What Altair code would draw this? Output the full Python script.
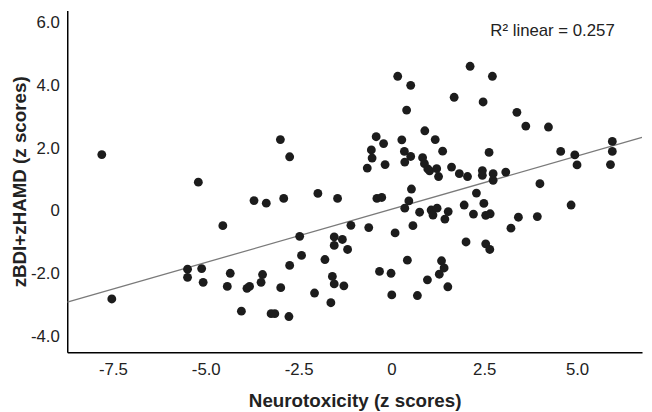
import altair as alt
import pandas as pd

# ---- data ----
neurotoxicity = [
    -7.80, -7.53, -5.20, -5.49, -5.49, -5.11, -5.07, -4.54, -4.34, -4.42,
    -3.89, -3.82, -4.04, -3.70, -3.37, -3.47, -3.51, -3.24, -3.14, -2.99,
    -2.90, -2.74, -2.98, -2.74, -2.76, -2.47, -2.42, -1.98, -2.07, -1.79,
    -1.63, -1.45, -1.59, -1.54, -1.54, -1.54, -1.32, -1.28, -1.18, -1.09,
    -0.65, -0.61, -0.54, -0.52, -0.41, -0.21, -0.17, -0.39, -0.26, -0.32,
    -0.01, 0.01, 0.10, 0.17, 0.52, 0.41, 0.28, 0.35, 0.52, 0.36,
    0.54, 0.47, 0.36, 0.58, 0.43, 0.70, 0.76, 0.90, 0.84, 0.89,
    0.98, 1.03, 1.18, 1.22, 1.27, 1.38, 1.07, 1.12, 1.23, 1.44,
    1.53, 0.97, 1.29, 1.35, 1.42, 1.52, 1.69, 1.62, 1.83, 2.05,
    1.96, 2.01, 2.12, 2.29, 2.21, 2.47, 2.45, 2.45, 2.49, 2.54,
    2.66, 2.54, 2.65, 2.72, 2.63, 2.74, 2.74, 3.08, 3.22, 3.38,
    3.42, 3.62, 3.93, 4.00, 4.23, 4.56, 4.84, 4.94, 5.00, 5.95,
    5.95, 5.90,
]
depression = [
    1.80, -2.81, 0.92, -1.86, -2.12, -1.84, -2.28, -0.47, -1.99, -2.41,
    -2.47, -2.41, -3.20, 0.33, 0.25, -2.03, -2.28, -3.28, -3.28, 2.28,
    0.40, 1.73, -2.45, -1.74, -3.37, -0.81, -1.42, 0.56, -2.62, -1.55,
    -2.93, 0.40, -2.09, -2.33, -0.83, -1.10, -0.91, -2.39, -1.23, -0.46,
    1.37, -0.53, 1.95, 1.69, 2.37, 2.15, 1.48, 0.40, 0.43, -1.93,
    -1.99, -2.68, -0.70, 4.30, 4.01, 3.22, 2.27, 1.90, 1.74, 1.56,
    0.70, 0.32, 0.09, -0.47, -1.57, -2.70, -0.04, 2.56, 1.70, 1.51,
    1.34, 1.28, 2.28, 1.35, 1.10, 1.91, 0.03, -0.13, 0.09, -0.26,
    -0.02, -2.20, -2.02, -1.59, -1.82, -2.42, 3.63, 1.40, 1.19, 1.10,
    0.19, -0.99, 4.62, 0.57, -0.10, 3.48, 1.29, 1.14, 0.24, -0.14,
    -0.09, -1.05, -1.23, 4.30, 1.87, 1.19, 0.98, 1.24, -0.55, 3.15,
    -0.20, 2.71, -0.18, 0.87, 2.68, 1.90, 0.19, 1.79, 1.47, 2.22,
    1.90, 1.48,
]

fit_intercept = 0.055
fit_slope = 0.340
x_domain = [-8.73, 6.75]
y_domain = [-4.51, 6.40]
x_ticks = [-7.5, -5.0, -2.5, 0, 2.5, 5.0]
y_ticks = [-4.0, -2.0, 0, 2.0, 4.0, 6.0]
annotation_text = ["R\u00b2 linear = 0.257"]
annotation_x = [4.34]
annotation_y = [5.74]

x_title = "Neurotoxicity (z scores)"
y_title = "zBDI+zHAMD (z scores)"

FONT = "Liberation Sans"

points = pd.DataFrame({"x": neurotoxicity, "y": depression})
fit = pd.DataFrame({"x": x_domain})
fit["y"] = fit_intercept + fit_slope * fit["x"]
annot = pd.DataFrame({"x": annotation_x, "y": annotation_y, "t": annotation_text})

label_expr = "datum.value == 0 ? '0' : replace(format(datum.value, '.1f'), '\u2212', '-')"

xscale = alt.Scale(domain=x_domain, nice=False, zero=False)
yscale = alt.Scale(domain=y_domain, nice=False, zero=False)

x_axis = alt.Axis(
    values=x_ticks, labelExpr=label_expr, title=x_title, grid=False, ticks=False,
    tickSize=0, domainColor="#000000", domainWidth=1.5, labelFont=FONT,
    labelFontSize=17, labelColor="#222222", labelPadding=10, titleFont=FONT,
    titleFontSize=19, titleFontWeight="bold", titleColor="#222222",
    titlePadding=14, labelFlush=False, labelOverlap=False,
)
y_axis = alt.Axis(
    values=y_ticks, labelExpr=label_expr, title=y_title, grid=False, ticks=False,
    tickSize=0, domainColor="#000000", domainWidth=1.5, labelFont=FONT,
    labelFontSize=17, labelColor="#222222", labelPadding=8, titleFont=FONT,
    titleFontSize=19, titleFontWeight="bold", titleColor="#222222",
    titleBaseline="top", titleX=-57, labelFlush=False, labelOverlap=False,
)

line = alt.Chart(fit).mark_line(color="#7a7a7a", strokeWidth=1.3, clip=True).encode(
    x=alt.X("x:Q", scale=xscale, axis=x_axis),
    y=alt.Y("y:Q", scale=yscale, axis=y_axis),
)

dots = alt.Chart(points).mark_circle(size=80, color="#1c1c1c", opacity=1, clip=True).encode(
    x=alt.X("x:Q", scale=xscale),
    y=alt.Y("y:Q", scale=yscale),
)

text = alt.Chart(annot).mark_text(
    font=FONT, fontSize=17, color="#222222", align="center", baseline="middle"
).encode(
    x=alt.X("x:Q", scale=xscale),
    y=alt.Y("y:Q", scale=yscale),
    text="t:N",
)

chart = (
    alt.layer(line, dots, text)
    .properties(
        width=582,
        height=346,
        autosize=alt.AutoSizeParams(type="none"),
        padding={"left": 60, "top": 0, "right": 2, "bottom": 58},
        background="white",
    )
    .configure_view(stroke=None)
)

chart.save("out.html", embed_options={"renderer": "svg", "actions": False})
